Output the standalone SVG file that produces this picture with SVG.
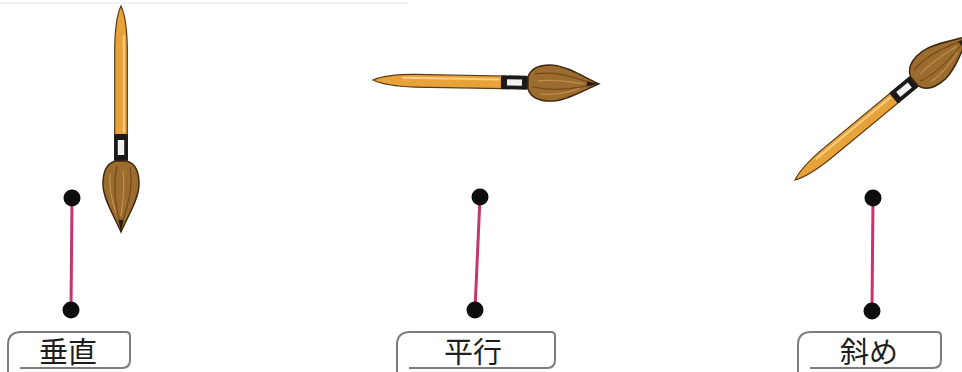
<svg xmlns="http://www.w3.org/2000/svg" width="962" height="372" viewBox="0 0 962 372">
  <style>
    .handle { fill: #e8a23a; stroke: #5a3a12; stroke-width: 1.2; }
    .shine { fill: none; stroke: #f7cf86; stroke-width: 2; stroke-linecap: round; }
    .ferrule { fill: #1c1a18; }
    .window { fill: #f2f2f2; }
    .head { fill: #9c6b2e; stroke: #3a2710; stroke-width: 1.4; }
    .streak { fill: none; stroke: #6a4519; stroke-width: 1.3; stroke-linecap: round; opacity: 0.8; }
    .streak-lt { fill: none; stroke: #c89a55; stroke-width: 1.2; stroke-linecap: round; opacity: 0.8; }
    .seg { stroke: #c8346c; stroke-width: 3; stroke-linecap: round; }
    .dot { fill: #0d0d0d; }
    .tag { fill: #fff; stroke: #7d7d7d; stroke-width: 2; }
    .tag-text { font-family: "Noto Sans CJK JP", "Noto Sans CJK SC", sans-serif; font-size: 29px; fill: #1e1e1e; text-anchor: middle; }
  </style>
  <defs>
    <!-- paintbrush drawn lying along +x, tail at the origin -->
    <g id="brush">
      <path class="handle" d="M0,0 C6,-2.8 20,-6 42,-6.3 L130,-6.3 L130,6.3 L42,6.3 C20,6 6,2.8 0,0 Z"/>
      <path class="shine" d="M30,-2.8 L126,-2.8"/>
      <rect class="ferrule" x="128" y="-7" width="27" height="14" rx="1.5"/>
      <rect class="window" x="134" y="-3.2" width="15" height="6.4"/>
      <path class="head" d="M155,-6 C158,-15 168,-18.5 180,-18 C194,-17 210,-7 226,0 C210,7 194,17 180,18 C168,18.5 158,15 155,6 Z"/>
      <path class="streak" d="M162,-9 C180,-12 196,-8 214,-2"/>
      <path class="streak" d="M160,4 C178,8 198,6 218,1"/>
      <path class="streak-lt" d="M165,-2 C180,-4 196,-2 210,0"/>
      <path class="streak-lt" d="M168,11 C182,12 196,9 206,5"/>
      <path d="M214,-2.5 L226,0 L214,2.5 Z" fill="#2a1c0a"/>
    </g>
  </defs>

  <line x1="0" y1="3" x2="408" y2="3" stroke="#e6e6e6" stroke-width="1"/>

  <g id="brush-vertical">
    <use href="#brush" transform="translate(121,6) rotate(90)"/>
  </g>
  <g id="brush-horizontal">
    <use href="#brush" transform="translate(373,80) rotate(1)"/>
  </g>
  <g id="brush-diagonal">
    <use href="#brush" transform="translate(795,180) rotate(-39.6)"/>
  </g>

  <g id="connectors">
    <line class="seg" x1="72" y1="198" x2="71" y2="310"/>
    <line class="seg" x1="480" y1="197" x2="475" y2="310"/>
    <line class="seg" x1="873" y1="198" x2="872" y2="311"/>
  </g>

  <g id="points-vertical">
    <circle class="dot" cx="72" cy="198" r="8.5"/>
    <circle class="dot" cx="71" cy="310" r="8.5"/>
  </g>
  <g id="points-horizontal">
    <circle class="dot" cx="480" cy="197" r="8.5"/>
    <circle class="dot" cx="475" cy="310" r="8.5"/>
  </g>
  <g id="points-diagonal">
    <circle class="dot" cx="873" cy="198" r="8.5"/>
    <circle class="dot" cx="872" cy="311" r="8.5"/>
  </g>

  <g id="label-vertical">
    <path class="tag" d="M8,373 V345 Q8,332 21,332 H126 Q130,332 130,336 V360 Q130,368 122,368 H20"/>
    <text class="tag-text" x="68" y="363">垂直</text>
  </g>
  <g id="label-horizontal">
    <path class="tag" d="M397,373 V345 Q397,332 410,332 H551 Q555,332 555,336 V360 Q555,368 547,368 H409"/>
    <text class="tag-text" x="473" y="363">平行</text>
  </g>
  <g id="label-diagonal">
    <path class="tag" d="M798,373 V345 Q798,332 811,332 H937 Q941,332 941,336 V360 Q941,368 933,368 H810"/>
    <text class="tag-text" x="869" y="363">斜め</text>
  </g>
</svg>
